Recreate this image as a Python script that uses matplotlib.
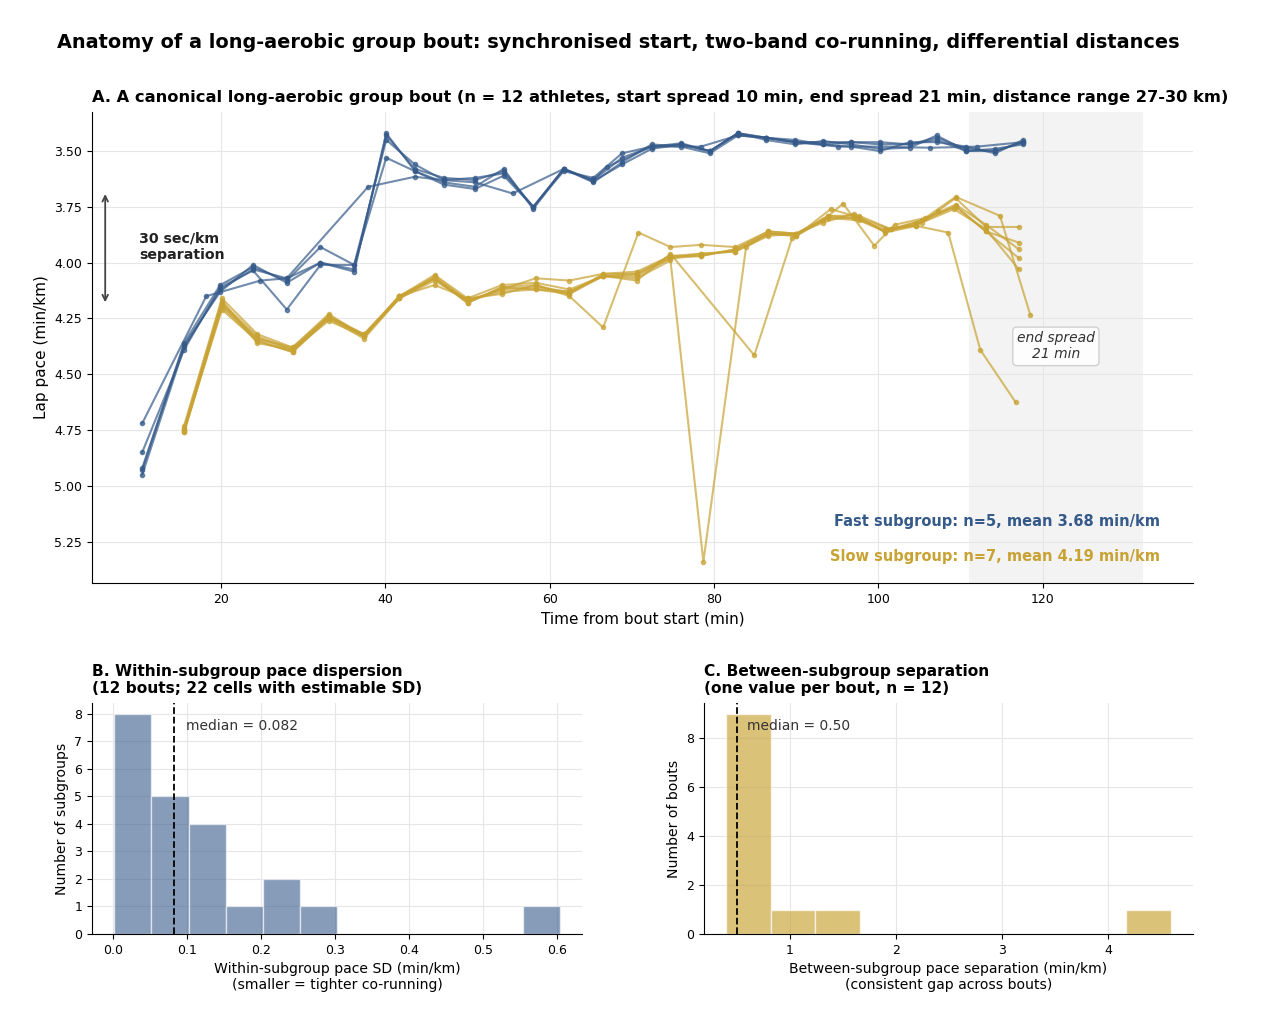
import numpy as np
import matplotlib
matplotlib.use('Agg')
import matplotlib.pyplot as plt

plt.rcParams['font.family'] = ['DejaVu Sans']

# ---- panel A data: lap pace per athlete (min/km) vs time from bout start (min)
FAST_COLOR = '#355a8a'
SLOW_COLOR = '#c8a232'

fast_times = [
    [10.4, 15.5, 19.9, 23.9, 28.0, 32.1, 36.2, 40.1, 43.6, 47.1, 50.9, 54.4, 58.0, 61.7, 65.3,
     68.8, 72.4, 76.0, 79.5, 82.9, 86.3, 89.9, 93.3, 96.7, 100.2, 103.8, 107.1, 110.7, 114.2, 117.6],
    [10.4, 15.5, 19.9, 23.9, 28.0, 32.1, 36.2, 40.1, 43.6, 47.1, 50.9, 54.4, 58.0, 61.7, 65.3,
     68.8, 72.4, 76.0, 79.5, 82.9, 86.3, 89.9, 93.3, 96.7, 100.2, 103.8, 107.1, 110.7, 114.2, 117.6],
    [10.4, 15.5, 19.9, 23.9, 28.0, 32.1, 36.2, 40.1, 43.6, 47.1, 50.9, 54.4, 58.0, 61.7, 65.3,
     68.8, 72.4, 76.0, 79.5, 82.9, 86.3, 89.9, 93.3, 96.7, 100.2, 103.8, 107.1, 110.7, 114.2, 117.6],
    [10.4, 15.5, 19.9, 23.9, 28.0, 32.1, 36.2, 40.1, 43.6, 47.1, 50.9, 54.4, 58.0, 61.7, 65.3,
     68.8, 72.4, 76.0, 79.5, 82.9, 86.3, 89.9, 93.3, 96.7, 100.2, 103.8, 107.1, 110.7, 114.2, 117.6],
    [10.4, 18.2, 24.8, 28.0, 37.9, 43.6, 47.1, 50.9, 55.5, 61.7, 65.3, 67.0, 72.4, 78.4, 82.9,
     86.3, 89.9, 95.1, 100.2, 106.3, 112.0, 117.6],
]
fast_paces = [
    [4.95, 4.38, 4.12, 4.03, 4.07, 4.00, 4.03, 3.43, 3.58, 3.62, 3.63, 3.59, 3.75, 3.58, 3.63,
     3.53, 3.48, 3.47, 3.50, 3.42, 3.44, 3.46, 3.46, 3.46, 3.47, 3.47, 3.44, 3.49, 3.50, 3.46],
    [4.92, 4.37, 4.13, 4.01, 4.09, 4.00, 4.04, 3.42, 3.59, 3.64, 3.66, 3.58, 3.76, 3.58, 3.64,
     3.55, 3.47, 3.48, 3.51, 3.43, 3.44, 3.45, 3.47, 3.48, 3.50, 3.46, 3.46, 3.48, 3.51, 3.45],
    [4.85, 4.39, 4.11, 4.035, 4.21, 4.01, 4.01, 3.45, 3.56, 3.63, 3.62, 3.60, 3.75, 3.59, 3.62,
     3.51, 3.48, 3.465, 3.50, 3.42, 3.45, 3.47, 3.455, 3.47, 3.49, 3.485, 3.43, 3.50, 3.49, 3.47],
    [4.93, 4.36, 4.10, 4.02, 4.08, 3.93, 4.01, 3.53, 3.59, 3.65, 3.67, 3.61, 3.75, 3.58, 3.635,
     3.56, 3.49, 3.47, 3.50, 3.42, 3.44, 3.46, 3.47, 3.46, 3.46, 3.47, 3.45, 3.50, 3.50, 3.46],
    [4.72, 4.15, 4.08, 4.07, 3.66, 3.615, 3.63, 3.64, 3.69, 3.58, 3.63, 3.57, 3.48, 3.48, 3.43,
     3.44, 3.46, 3.48, 3.48, 3.485, 3.48, 3.46],
]

slow_times = [
    [15.5, 20.1, 24.4, 28.7, 33.1, 37.4, 41.7, 46.0, 50.0, 54.2, 58.3, 62.4, 66.5, 70.6, 74.7,
     78.4, 82.6, 86.6, 90.0, 93.3, 97.0, 100.8, 104.6, 107.2, 109.4, 113.1, 117.1],
    [15.5, 20.1, 24.4, 28.7, 33.1, 37.4, 41.7, 46.0, 50.0, 54.2, 58.3, 62.4, 66.5, 70.6, 74.7,
     78.4, 82.6, 86.6, 90.0, 94.2, 97.0, 100.8, 104.6, 109.4, 113.1, 117.1],
    [15.5, 20.1, 24.4, 28.7, 33.1, 37.4, 41.7, 46.0, 50.0, 54.2, 58.3, 62.4, 66.5, 70.6, 74.7,
     78.7, 83.9, 86.6, 90.0, 93.9, 97.0, 100.8, 104.6, 109.4, 113.1, 117.1],
    [15.5, 20.1, 24.4, 28.7, 33.1, 37.4, 41.7, 46.0, 50.0, 54.2, 58.3, 62.4, 66.5, 70.6, 74.7,
     84.9, 89.5, 93.3, 95.7, 99.5, 102.0, 105.7, 109.4, 113.1, 117.1],
    [15.5, 20.1, 24.4, 28.7, 33.1, 37.4, 41.7, 46.0, 50.0, 54.2, 58.3, 62.4, 66.5, 70.8, 74.7,
     78.4, 82.6, 86.6, 90.0, 93.9, 97.7, 101.5, 105.3, 109.2, 113.1, 117.1],
    [15.5, 20.1, 24.4, 28.7, 33.1, 37.4, 41.7, 46.0, 50.0, 54.2, 58.3, 62.4, 66.5, 70.6, 74.7,
     78.4, 82.6, 86.6, 90.0, 93.9, 97.7, 100.8, 104.6, 108.5, 112.4, 116.7],
    [15.5, 20.1, 24.4, 28.7, 33.1, 37.4, 41.7, 46.0, 50.0, 54.2, 58.3, 62.4, 66.5, 70.6, 74.7,
     78.4, 82.6, 86.6, 90.0, 93.9, 97.7, 101.5, 105.3, 109.4, 114.8, 118.5],
]
slow_paces = [
    [4.75, 4.18, 4.33, 4.39, 4.24, 4.33, 4.16, 4.06, 4.17, 4.12, 4.11, 4.13, 4.06, 4.06, 3.98,
     3.96, 3.95, 3.88, 3.87, 3.82, 3.78, 3.865, 3.835, 3.77, 3.71, 3.84, 3.84],
    [4.76, 4.20, 4.35, 4.40, 4.25, 4.32, 4.15, 4.07, 4.18, 4.11, 4.10, 4.14, 4.05, 4.05, 3.97,
     3.97, 3.94, 3.87, 3.88, 3.76, 3.79, 3.86, 3.83, 3.745, 3.86, 3.91],
    [4.73, 4.16, 4.32, 4.38, 4.23, 4.33, 4.15, 4.055, 4.16, 4.10, 4.09, 4.12, 4.06, 4.07, 3.99,
     5.34, 3.93, 3.87, 3.88, 3.79, 3.80, 3.86, 3.82, 3.74, 3.83, 3.94],
    [4.75, 4.19, 4.34, 4.39, 4.24, 4.32, 4.16, 4.08, 4.17, 4.13, 4.12, 4.14, 4.06, 4.08, 3.96,
     4.415, 3.89, 3.81, 3.735, 3.924, 3.83, 3.80, 3.75, 3.86, 3.98],
    [4.74, 4.17, 4.36, 4.39, 4.26, 4.33, 4.15, 4.10, 4.16, 4.14, 4.10, 4.15, 4.29, 3.865, 3.93,
     3.92, 3.93, 3.86, 3.87, 3.80, 3.80, 3.85, 3.82, 3.76, 3.85, 4.03],
    [4.75, 4.21, 4.35, 4.40, 4.25, 4.34, 4.16, 4.07, 4.17, 4.12, 4.07, 4.08, 4.05, 4.04, 3.97,
     3.96, 3.95, 3.87, 3.87, 3.80, 3.81, 3.85, 3.835, 3.865, 4.39, 4.625],
    [4.76, 4.19, 4.34, 4.38, 4.24, 4.33, 4.15, 4.07, 4.18, 4.11, 4.12, 4.13, 4.06, 4.05, 3.98,
     3.97, 3.94, 3.86, 3.87, 3.79, 3.79, 3.85, 3.81, 3.705, 3.79, 4.235],
]

fast_mean = 3.68
slow_mean = 4.19
end_span = (111.0, 132.2)

# ---- panel B / C data
within_sd = [0.002, 0.011, 0.018, 0.024, 0.031, 0.037, 0.042, 0.047, 0.058, 0.069, 0.078,
             0.086, 0.094, 0.108, 0.117, 0.129, 0.141, 0.171, 0.214, 0.236, 0.268, 0.604]
between_sep = [0.40, 0.43, 0.45, 0.47, 0.48, 0.49, 0.51, 0.53, 0.55, 0.90, 1.40, 4.59]

fig = plt.figure(figsize=(12.68, 10.24), dpi=100)
fig.suptitle('Anatomy of a long-aerobic group bout: synchronised start, two-band co-running, '
             'differential distances', fontsize=13.9, fontweight='bold', x=0.488, y=0.968)

# ---------------- panel A
ax = fig.add_axes([0.0726, 0.4307, 0.8683, 0.4599])
ax.axvspan(end_span[0], end_span[1], color='#d9d9d9', alpha=0.3, lw=0, zorder=0)
for t, p in zip(fast_times, fast_paces):
    ax.plot(t, p, '-o', color=FAST_COLOR, lw=1.5, ms=3, alpha=0.7, zorder=3)
for t, p in zip(slow_times, slow_paces):
    ax.plot(t, p, '-o', color=SLOW_COLOR, lw=1.5, ms=3, alpha=0.7, zorder=2)

ax.set_xlim(4.3, 138.3)
ax.set_ylim(5.435, 3.325)
ax.set_yticks([3.50, 3.75, 4.00, 4.25, 4.50, 4.75, 5.00, 5.25])
ax.set_yticklabels(['%.2f' % v for v in ax.get_yticks()])
ax.grid(True, color='#e6e6e6', lw=0.8)
ax.set_axisbelow(True)
ax.set_xlabel('Time from bout start (min)', fontsize=11)
ax.set_ylabel('Lap pace (min/km)', fontsize=11)
ax.tick_params(labelsize=9)
ax.set_title('A. A canonical long-aerobic group bout (n = 12 athletes, start spread 10 min, '
             'end spread 21 min, distance range 27-30 km)', fontsize=11.7, fontweight='bold',
             loc='left', pad=7)
for s in ['top', 'right']:
    ax.spines[s].set_visible(False)

ax.annotate('', xy=(5.9, fast_mean), xytext=(5.9, slow_mean),
            arrowprops=dict(arrowstyle='<->', color='#444444', lw=1.3))
ax.text(10.0, 3.93, '30 sec/km\nseparation', fontsize=10.2, fontweight='bold',
        color='#222222', va='center', ha='left')
ax.text(121.6, 4.375, 'end spread\n21 min', fontsize=10, style='italic', color='#333333',
        ha='center', va='center',
        bbox=dict(boxstyle='round,pad=0.3', fc='white', ec='#cccccc', alpha=0.9))
ax.text(0.97, 0.13, 'Fast subgroup: n=5, mean %.2f min/km' % fast_mean, transform=ax.transAxes,
        ha='right', va='center', fontsize=10.5, fontweight='bold', color=FAST_COLOR)
ax.text(0.97, 0.057, 'Slow subgroup: n=7, mean %.2f min/km' % slow_mean, transform=ax.transAxes,
        ha='right', va='center', fontsize=10.5, fontweight='bold', color=SLOW_COLOR)

# ---------------- panel B
axb = fig.add_axes([0.0726, 0.0879, 0.3864, 0.2256])
axb.hist(within_sd, bins=12, color=FAST_COLOR, alpha=0.6, edgecolor='white', lw=1)
med_b = np.median(within_sd)
axb.axvline(med_b, color='black', ls='--', lw=1.3)
axb.text(med_b * 1.2, axb.get_ylim()[1] * 0.9, 'median = %.3f' % med_b, fontsize=10,
         va='center', color='#333333')
axb.set_xlabel('Within-subgroup pace SD (min/km)\n(smaller = tighter co-running)', fontsize=10.1)
axb.set_ylabel('Number of subgroups', fontsize=10.1)
axb.set_title('B. Within-subgroup pace dispersion\n(12 bouts; 22 cells with estimable SD)',
              fontsize=11.1, fontweight='bold', loc='left', pad=7)
axb.grid(True, color='#e6e6e6', lw=0.8)
axb.set_axisbelow(True)
axb.tick_params(labelsize=9)
for s in ['top', 'right']:
    axb.spines[s].set_visible(False)

# ---------------- panel C
axc = fig.add_axes([0.5552, 0.0879, 0.3857, 0.2256])
axc.hist(between_sep, bins=10, color=SLOW_COLOR, alpha=0.65, edgecolor='white', lw=1)
med_c = np.median(between_sep)
axc.axvline(med_c, color='black', ls='--', lw=1.3)
axc.text(med_c * 1.2, axc.get_ylim()[1] * 0.9, 'median = %.2f' % med_c, fontsize=10,
         va='center', color='#333333')
axc.set_xlabel('Between-subgroup pace separation (min/km)\n(consistent gap across bouts)',
               fontsize=10.1)
axc.set_ylabel('Number of bouts', fontsize=10.1)
axc.set_title('C. Between-subgroup separation\n(one value per bout, n = 12)',
              fontsize=11.1, fontweight='bold', loc='left', pad=7)
axc.grid(True, color='#e6e6e6', lw=0.8)
axc.set_axisbelow(True)
axc.tick_params(labelsize=9)
for s in ['top', 'right']:
    axc.spines[s].set_visible(False)

fig.savefig('out.png', dpi=100)
